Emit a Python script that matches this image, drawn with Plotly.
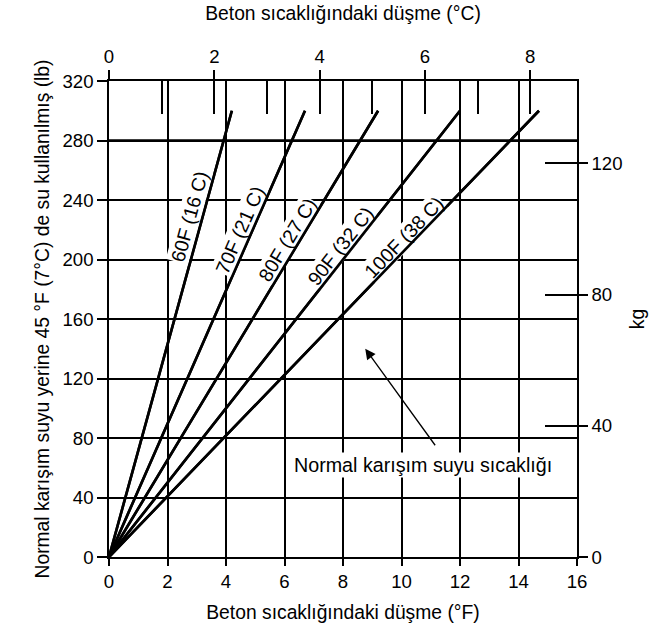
import math
import plotly.graph_objects as go

# ---- data ----
line_labels = ["60F (16 C)", "70F (21 C)", "80F (27 C)", "90F (32 C)", "100F (38 C)"]
end_drop_f = [4.2, 6.7, 9.2, 12.0, 14.7]          # °F drop at top of each line
end_water_lb = [300, 300, 300, 300, 300]          # lb at top of each line
label_lb = [229, 220, 213, 209, 215]              # lb level where each label sits

x_ticks_f = [0, 2, 4, 6, 8, 10, 12, 14, 16]
y_ticks_lb = [0, 40, 80, 120, 160, 200, 240, 280, 320]
bold_grid_lb = [280]
c_major_ticks = [0, 2, 4, 6, 8]
c_minor_ticks = [1, 2, 3, 4, 5, 6, 7, 8]
kg_ticks = [0, 40, 80, 120]
kg_inner_ticks = [40, 80, 120]

arrow_head = (8.76, 140)
note_text = "Normal karışım suyu sıcaklığı"
note_pos = (10.75, 62)

X_MAX, Y_MAX = 16, 320
LB_PER_KG = 2.20462

FONT = "Liberation Sans, Arial, sans-serif"
L, R, T, B = 109, 72, 81, 73
W, H = 649, 630
px_per_x = (W - L - R) / X_MAX
px_per_y = (H - T - B) / Y_MAX
LINE_W = 2.6

fig = go.Figure()
for name, xe, ye in zip(line_labels, end_drop_f, end_water_lb):
    fig.add_trace(go.Scatter(x=[0, xe], y=[0, ye], mode="lines", name=name,
                             line=dict(color="black", width=LINE_W),
                             showlegend=False, hoverinfo="skip"))

# helper invisible traces so overlay axes render
fig.add_trace(go.Scatter(x=[None], y=[None], xaxis="x2", yaxis="y", showlegend=False))
fig.add_trace(go.Scatter(x=[None], y=[None], xaxis="x3", yaxis="y", showlegend=False))
fig.add_trace(go.Scatter(x=[None], y=[None], xaxis="x", yaxis="y2", showlegend=False))
fig.add_trace(go.Scatter(x=[None], y=[None], xaxis="x", yaxis="y3", showlegend=False))

shapes = [dict(type="line", xref="paper", x0=0, x1=1, yref="y", y0=v, y1=v,
               line=dict(color="black", width=2.6), layer="below") for v in bold_grid_lb]

annotations = []
for name, xe, ye, lb in zip(line_labels, end_drop_f, end_water_lb, label_lb):
    ang = math.degrees(math.atan((ye * px_per_y) / (xe * px_per_x)))
    annotations.append(dict(
        x=xe * lb / ye, y=lb, xref="x", yref="y", text=name, showarrow=False,
        textangle=-ang, xshift=-13, bgcolor="white", borderpad=0,
        font=dict(family=FONT, size=19.5, color="black")))

# redraw the temperature lines above the label backgrounds
for xe, ye in zip(end_drop_f, end_water_lb):
    annotations.append(dict(
        x=xe, y=ye, xref="x", yref="y", ax=0, ay=0, axref="x", ayref="y",
        text="", showarrow=True, arrowhead=0, arrowwidth=LINE_W,
        arrowcolor="black", standoff=0, startstandoff=0))

annotations.append(dict(
    x=arrow_head[0], y=arrow_head[1], xref="x", yref="y", text="",
    showarrow=True, ax=71, ay=98, arrowhead=2, arrowsize=1.6, arrowwidth=1.3,
    arrowcolor="black"))
annotations.append(dict(
    x=note_pos[0], y=note_pos[1], xref="x", yref="y", text=note_text,
    showarrow=False, bgcolor="white", borderpad=1,
    font=dict(family=FONT, size=19.7, color="black")))

axis_common = dict(color="black", tickcolor="black", tickwidth=1.5, automargin=False,
                   zeroline=False, tickfont=dict(family=FONT, size=18.6, color="black"))
TITLE_FONT = dict(family=FONT, size=19.3, color="black")

fig.update_layout(
    width=W, height=H,
    margin=dict(l=L, r=R, t=T, b=B, autoexpand=False),
    paper_bgcolor="white", plot_bgcolor="white",
    font=dict(family=FONT, size=18, color="black"),
    xaxis=dict(range=[0, X_MAX], tickvals=x_ticks_f, ticks="outside", ticklen=7,
               showgrid=True, gridcolor="black", gridwidth=1.5,
               showline=True, linecolor="black", linewidth=1.5,
               title=dict(text="Beton sıcaklığındaki düşme (°F)", font=TITLE_FONT, standoff=14),
               **axis_common),
    yaxis=dict(range=[0, Y_MAX], tickvals=y_ticks_lb, ticks="outside", ticklen=10,
               showgrid=True, gridcolor="black", gridwidth=1.5,
               showline=True, linecolor="black", linewidth=1.5,
               title=dict(text="Normal karışım suyu yerine 45 °F (7°C) de su kullanılmış (lb)",
                          font=TITLE_FONT, standoff=8),
               **axis_common),
    xaxis2=dict(overlaying="x", side="top", anchor="y", range=[0, X_MAX / 1.8],
                tickvals=c_major_ticks, ticks="outside", ticklen=9,
                showgrid=False, showline=True, linecolor="black", linewidth=1.5,
                title=dict(text="Beton sıcaklığındaki düşme (°C)", font=TITLE_FONT, standoff=20),
                **axis_common),
    xaxis3=dict(overlaying="x", side="top", anchor="y", range=[0, X_MAX / 1.8],
                tickvals=c_minor_ticks, ticks="inside", ticklen=33,
                showticklabels=False, showgrid=False, showline=False,
                **axis_common),
    yaxis2=dict(overlaying="y", side="right", anchor="x", range=[0, Y_MAX / LB_PER_KG],
                tickvals=kg_ticks, ticks="outside", ticklen=9,
                showgrid=False, showline=True, linecolor="black", linewidth=1.5,
                title=dict(text="kg", font=TITLE_FONT, standoff=9),
                **axis_common),
    yaxis3=dict(overlaying="y", side="right", anchor="x", range=[0, Y_MAX / LB_PER_KG],
                tickvals=kg_inner_ticks, ticks="inside", ticklen=32,
                showticklabels=False, showgrid=False, showline=False,
                **axis_common),
    shapes=shapes,
    annotations=annotations,
)

fig.write_html("out.html", config={"displayModeBar": False},
               post_script="document.body.style.margin='0';")
